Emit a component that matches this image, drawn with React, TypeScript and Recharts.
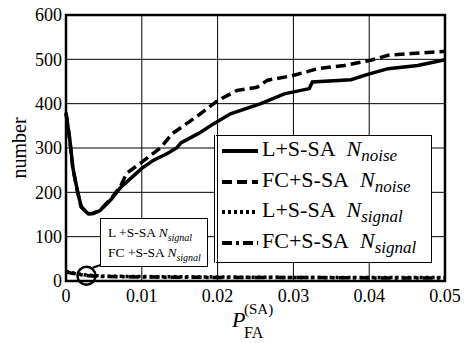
import { LineChart, Line, XAxis, YAxis, CartesianGrid, Legend, ReferenceArea, ReferenceDot, ReferenceLine, Label } from 'recharts';

const FONT = "'Liberation Serif', 'Times New Roman', 'DejaVu Serif', serif";

// L+S-SA N_noise (solid)
const lNoiseX = [0, 0.0005, 0.0009, 0.0015, 0.002, 0.0029, 0.0036, 0.0045, 0.006, 0.0072, 0.0085, 0.01, 0.0115, 0.0133, 0.0146, 0.0152, 0.0175, 0.0195, 0.0217, 0.0257, 0.0288, 0.0321, 0.0325, 0.0376, 0.0398, 0.0425, 0.0464, 0.05];
const lNoiseY = [380, 320, 256, 204, 168, 152, 153, 159, 185, 211, 231, 254, 272, 287, 300, 312, 333, 355, 377, 400, 422, 434, 449, 454, 466, 479, 486, 499];

// FC+S-SA N_noise (dashed)
const fcNoiseX = [0, 0.0005, 0.0009, 0.0015, 0.002, 0.0029, 0.0036, 0.0045, 0.006, 0.0072, 0.008, 0.01, 0.0125, 0.014, 0.0175, 0.02, 0.0226, 0.0252, 0.0266, 0.0301, 0.0332, 0.0367, 0.0402, 0.0425, 0.0456, 0.05];
const fcNoiseY = [378, 318, 254, 203, 167, 151, 152, 160, 187, 214, 243, 268, 301, 332, 374, 407, 430, 437, 453, 464, 479, 486, 498, 509, 513, 518];

// L+S-SA N_signal (dotted)
const lSignalX = [0, 0.001, 0.002, 0.003, 0.005, 0.01, 0.02, 0.03, 0.04, 0.05];
const lSignalY = [22, 18, 15, 13, 11, 10, 9, 8, 8, 8];

// FC+S-SA N_signal (dash-dot)
const fcSignalX = [0, 0.001, 0.002, 0.003, 0.005, 0.01, 0.02, 0.03, 0.04, 0.05];
const fcSignalY = [20, 17, 14, 12, 10, 9, 8, 8, 7, 7];

const xTicks = [0, 0.01, 0.02, 0.03, 0.04, 0.05];
const yTicks = [0, 100, 200, 300, 400, 500, 600];

const toPoints = (xs: number[], ys: number[]) => xs.map((x, i) => ({ x, y: ys[i] }));

const series = [
  { key: 'lNoise', method: 'L+S-SA', sub: 'noise', dash: undefined as string | undefined, data: toPoints(lNoiseX, lNoiseY) },
  { key: 'fcNoise', method: 'FC+S-SA', sub: 'noise', dash: '10 5', data: toPoints(fcNoiseX, fcNoiseY) },
  { key: 'lSignal', method: 'L+S-SA', sub: 'signal', dash: '3 3', data: toPoints(lSignalX, lSignalY) },
  { key: 'fcSignal', method: 'FC+S-SA', sub: 'signal', dash: '10 4 3 4', data: toPoints(fcSignalX, fcSignalY) },
];

const LegendBox = () => (
  <div
    style={{
      width: 218,
      height: 128,
      boxSizing: 'border-box',
      background: '#fff',
      border: '1.5px solid #000',
      borderLeft: '4px double #000',
      fontFamily: FONT,
      fontSize: 22,
      paddingLeft: 4,
    }}
  >
    {series.map((s) => (
      <div key={s.key} style={{ display: 'flex', alignItems: 'center', height: 30.5, lineHeight: 1 }}>
        <svg width={36} height={10}>
          <line x1={0} y1={5} x2={36} y2={5} stroke="#000" strokeWidth={4} strokeDasharray={s.dash} />
        </svg>
        <span style={{ marginLeft: 4, whiteSpace: 'nowrap', fontFamily: FONT }}>
          {s.method}&nbsp;&nbsp;<i>N</i>
          <sub style={{ fontStyle: 'italic', fontSize: 17, lineHeight: 1 }}>{s.sub}</sub>
        </span>
      </div>
    ))}
  </div>
);

export default function App() {
  return (
    <div style={{ position: 'absolute', left: 0, top: 0, width: 465, height: 343, background: '#fff', fontFamily: FONT }}>
      <LineChart width={465} height={343} margin={{ top: 15, right: 20, bottom: 32, left: 0 }} style={{ fontFamily: FONT }}>
        <CartesianGrid stroke="#000" strokeWidth={1} />
        <XAxis
          type="number"
          dataKey="x"
          domain={[0, 0.05]}
          ticks={xTicks}
          tickFormatter={(v: number) => (v === 0 ? '0' : v.toFixed(2))}
          tickLine={false}
          tickSize={0}
          tickMargin={8}
          axisLine={false}
          height={30}
          tick={{ fill: '#000', fontSize: 18, fontFamily: FONT }}
          allowDuplicatedCategory={false}
        >
          <Label
            content={() => (
              <text fontFamily={FONT} fill="#000">
                <tspan x={232} y={327} fontStyle="italic" fontSize={22}>P</tspan>
                <tspan x={244} y={314} fontSize={15}>(SA)</tspan>
                <tspan x={244} y={338} fontSize={16}>FA</tspan>
              </text>
            )}
          />
        </XAxis>
        <YAxis
          type="number"
          domain={[0, 600]}
          ticks={yTicks}
          width={66}
          tickLine={false}
          tickSize={0}
          tickMargin={4}
          axisLine={false}
          tick={{ fill: '#000', fontSize: 18, fontFamily: FONT }}
        >
          <Label
            content={() => (
              <text
                x={19}
                y={148}
                transform="rotate(-90 19 148)"
                textAnchor="middle"
                dominantBaseline="central"
                fontFamily={FONT}
                fontSize={20}
                fill="#000"
              >
                number
              </text>
            )}
          />
        </YAxis>
        <ReferenceArea x1={0} x2={0.05} y1={0} y2={600} fill="none" stroke="#000" strokeWidth={2.5} />
        {series.map((s) => (
          <Line
            key={s.key}
            data={s.data}
            dataKey="y"
            name={s.key}
            type="linear"
            stroke="#000"
            strokeWidth={3.5}
            strokeDasharray={s.dash}
            dot={false}
            isAnimationActive={false}
          />
        ))}
        <ReferenceDot x={0.0027} y={12} r={9} fill="none" stroke="#000" strokeWidth={2.5} />
        <ReferenceLine
          segment={[
            { x: 0.0035, y: 30 },
            { x: 0.0062, y: 46 },
          ]}
          stroke="#000"
          strokeWidth={2}
        />
        <Legend
          layout="horizontal"
          verticalAlign="middle"
          align="center"
          content={() => <LegendBox />}
          wrapperStyle={{ left: 214, top: 135, width: 218, height: 128 }}
        />
      </LineChart>
      <div
        style={{
          position: 'absolute',
          left: 100,
          top: 218,
          width: 108,
          height: 49,
          boxSizing: 'border-box',
          border: '1.5px solid #000',
          background: '#fff',
          fontFamily: FONT,
          fontSize: 13.5,
          lineHeight: '19px',
          padding: '4px 0 0 7px',
          whiteSpace: 'nowrap',
        }}
      >
        <div>
          L +S-SA <i>N</i>
          <sub style={{ fontStyle: 'italic', fontSize: 10, lineHeight: 1 }}>signal</sub>
        </div>
        <div>
          FC +S-SA <i>N</i>
          <sub style={{ fontStyle: 'italic', fontSize: 10, lineHeight: 1 }}>signal</sub>
        </div>
      </div>
    </div>
  );
}
